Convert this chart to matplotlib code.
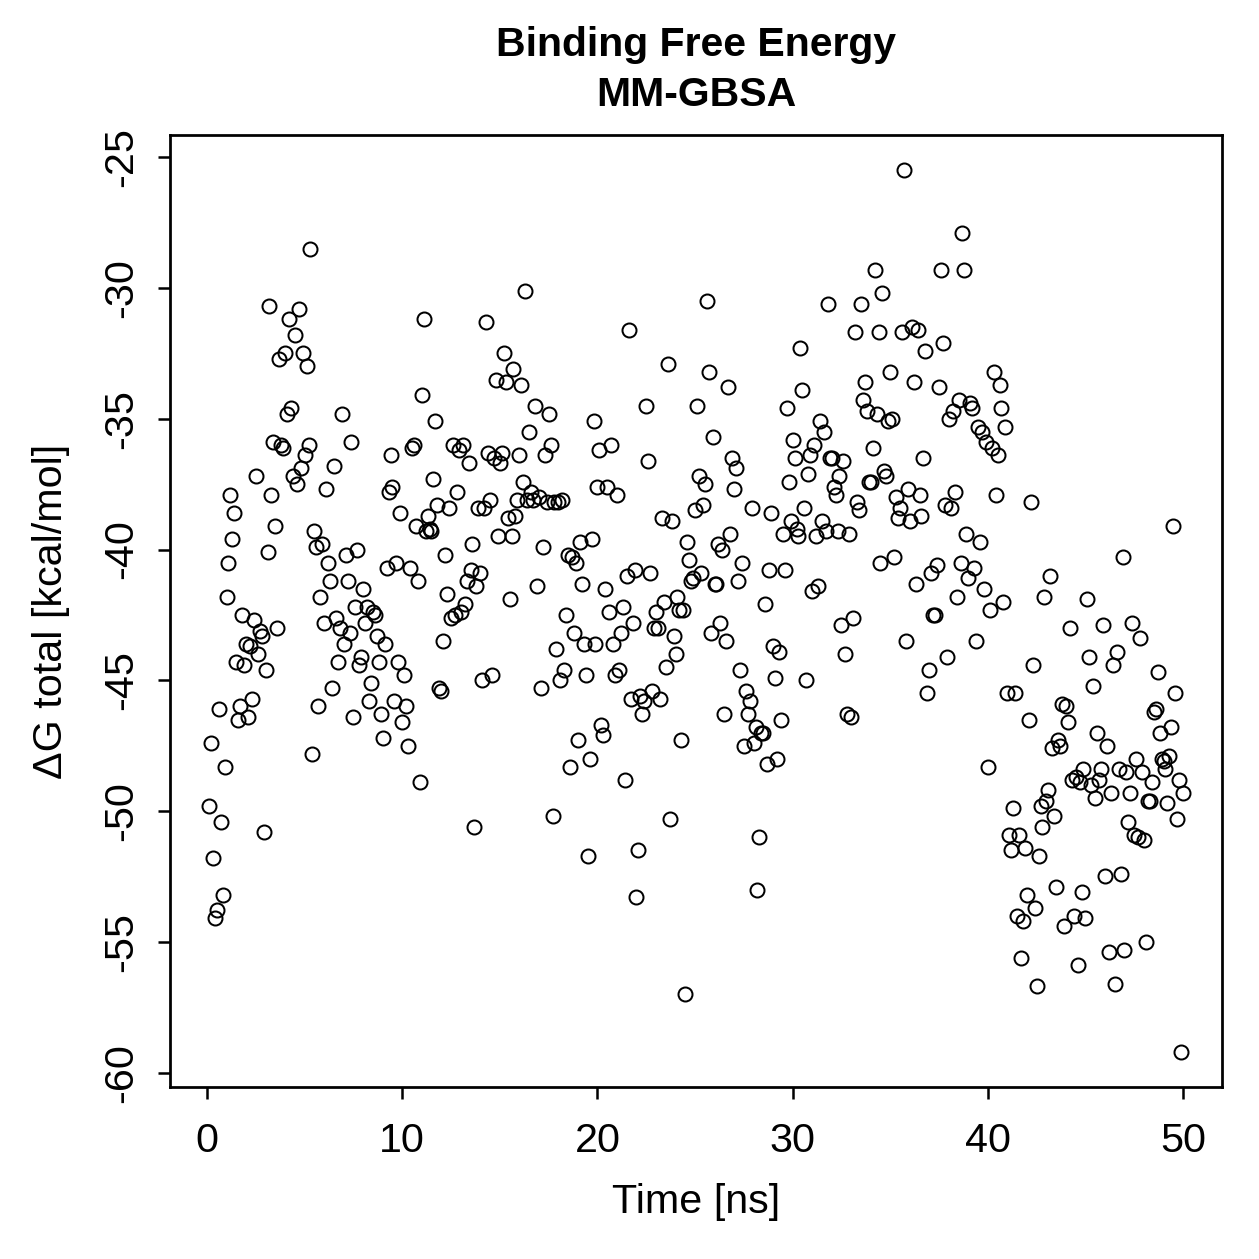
import matplotlib
matplotlib.use("Agg")
import matplotlib.pyplot as plt
import numpy as np

plt.rcParams['font.family'] = ['Liberation Sans', 'DejaVu Sans']
plt.rcParams['axes.unicode_minus'] = False

# time [ns], one frame every 0.1 ns
time_ns = [
    0.1, 0.2, 0.3, 0.4, 0.5, 0.6, 0.7, 0.8, 0.9, 1.0,
    1.1, 1.2, 1.3, 1.4, 1.5, 1.6, 1.7, 1.8, 1.9, 2.0,
    2.1, 2.2, 2.3, 2.4, 2.5, 2.6, 2.7, 2.8, 2.9, 3.0,
    3.1, 3.2, 3.3, 3.4, 3.5, 3.6, 3.7, 3.8, 3.9, 4.0,
    4.1, 4.2, 4.3, 4.4, 4.5, 4.6, 4.7, 4.8, 4.9, 5.0,
    5.1, 5.2, 5.3, 5.4, 5.5, 5.6, 5.7, 5.8, 5.9, 6.0,
    6.1, 6.2, 6.3, 6.4, 6.5, 6.6, 6.7, 6.8, 6.9, 7.0,
    7.1, 7.2, 7.3, 7.4, 7.5, 7.6, 7.7, 7.8, 7.9, 8.0,
    8.1, 8.2, 8.3, 8.4, 8.5, 8.6, 8.7, 8.8, 8.9, 9.0,
    9.1, 9.2, 9.3, 9.4, 9.5, 9.6, 9.7, 9.8, 9.9, 10.0,
    10.1, 10.2, 10.3, 10.4, 10.5, 10.6, 10.7, 10.8, 10.9, 11.0,
    11.1, 11.2, 11.3, 11.4, 11.5, 11.6, 11.7, 11.8, 11.9, 12.0,
    12.1, 12.2, 12.3, 12.4, 12.5, 12.6, 12.7, 12.8, 12.9, 13.0,
    13.1, 13.2, 13.3, 13.4, 13.5, 13.6, 13.7, 13.8, 13.9, 14.0,
    14.1, 14.2, 14.3, 14.4, 14.5, 14.6, 14.7, 14.8, 14.9, 15.0,
    15.1, 15.2, 15.3, 15.4, 15.5, 15.6, 15.7, 15.8, 15.9, 16.0,
    16.1, 16.2, 16.3, 16.4, 16.5, 16.6, 16.7, 16.8, 16.9, 17.0,
    17.1, 17.2, 17.3, 17.4, 17.5, 17.6, 17.7, 17.8, 17.9, 18.0,
    18.1, 18.2, 18.3, 18.4, 18.5, 18.6, 18.7, 18.8, 18.9, 19.0,
    19.1, 19.2, 19.3, 19.4, 19.5, 19.6, 19.7, 19.8, 19.9, 20.0,
    20.1, 20.2, 20.3, 20.4, 20.5, 20.6, 20.7, 20.8, 20.9, 21.0,
    21.1, 21.2, 21.3, 21.4, 21.5, 21.6, 21.7, 21.8, 21.9, 22.0,
    22.1, 22.2, 22.3, 22.4, 22.5, 22.6, 22.7, 22.8, 22.9, 23.0,
    23.1, 23.2, 23.3, 23.4, 23.5, 23.6, 23.7, 23.8, 23.9, 24.0,
    24.1, 24.2, 24.3, 24.4, 24.5, 24.6, 24.7, 24.8, 24.9, 25.0,
    25.1, 25.2, 25.3, 25.4, 25.5, 25.6, 25.7, 25.8, 25.9, 26.0,
    26.1, 26.2, 26.3, 26.4, 26.5, 26.6, 26.7, 26.8, 26.9, 27.0,
    27.1, 27.2, 27.3, 27.4, 27.5, 27.6, 27.7, 27.8, 27.9, 28.0,
    28.1, 28.2, 28.3, 28.4, 28.5, 28.6, 28.7, 28.8, 28.9, 29.0,
    29.1, 29.2, 29.3, 29.4, 29.5, 29.6, 29.7, 29.8, 29.9, 30.0,
    30.1, 30.2, 30.3, 30.4, 30.5, 30.6, 30.7, 30.8, 30.9, 31.0,
    31.1, 31.2, 31.3, 31.4, 31.5, 31.6, 31.7, 31.8, 31.9, 32.0,
    32.1, 32.2, 32.3, 32.4, 32.5, 32.6, 32.7, 32.8, 32.9, 33.0,
    33.1, 33.2, 33.3, 33.4, 33.5, 33.6, 33.7, 33.8, 33.9, 34.0,
    34.1, 34.2, 34.3, 34.4, 34.5, 34.6, 34.7, 34.8, 34.9, 35.0,
    35.1, 35.2, 35.3, 35.4, 35.5, 35.6, 35.7, 35.8, 35.9, 36.0,
    36.1, 36.2, 36.3, 36.4, 36.5, 36.6, 36.7, 36.8, 36.9, 37.0,
    37.1, 37.2, 37.3, 37.4, 37.5, 37.6, 37.7, 37.8, 37.9, 38.0,
    38.1, 38.2, 38.3, 38.4, 38.5, 38.6, 38.7, 38.8, 38.9, 39.0,
    39.1, 39.2, 39.3, 39.4, 39.5, 39.6, 39.7, 39.8, 39.9, 40.0,
    40.1, 40.2, 40.3, 40.4, 40.5, 40.6, 40.7, 40.8, 40.9, 41.0,
    41.1, 41.2, 41.3, 41.4, 41.5, 41.6, 41.7, 41.8, 41.9, 42.0,
    42.1, 42.2, 42.3, 42.4, 42.5, 42.6, 42.7, 42.8, 42.9, 43.0,
    43.1, 43.2, 43.3, 43.4, 43.5, 43.6, 43.7, 43.8, 43.9, 44.0,
    44.1, 44.2, 44.3, 44.4, 44.5, 44.6, 44.7, 44.8, 44.9, 45.0,
    45.1, 45.2, 45.3, 45.4, 45.5, 45.6, 45.7, 45.8, 45.9, 46.0,
    46.1, 46.2, 46.3, 46.4, 46.5, 46.6, 46.7, 46.8, 46.9, 47.0,
    47.1, 47.2, 47.3, 47.4, 47.5, 47.6, 47.7, 47.8, 47.9, 48.0,
    48.1, 48.2, 48.3, 48.4, 48.5, 48.6, 48.7, 48.8, 48.9, 49.0,
    49.1, 49.2, 49.3, 49.4, 49.5, 49.6, 49.7, 49.8, 49.9, 50.0,
]

# delta G total [kcal/mol]
dg_total = [
    -49.8, -47.4, -51.8, -54.1, -53.8, -46.1, -50.4, -53.2, -48.3, -41.8,
    -40.5, -37.9, -39.6, -38.6, -44.3, -46.5, -46.0, -42.5, -44.4, -43.6,
    -46.4, -43.7, -45.7, -42.7, -37.2, -44.0, -43.1, -43.3, -50.8, -44.6,
    -40.1, -30.7, -37.9, -35.9, -39.1, -43.0, -32.7, -36.0, -36.1, -32.5,
    -34.8, -31.2, -34.6, -37.2, -31.8, -37.5, -30.8, -36.9, -32.5, -36.4,
    -33.0, -36.0, -28.5, -47.8, -39.3, -39.9, -46.0, -41.8, -39.8, -42.8,
    -37.7, -40.5, -41.2, -45.3, -36.8, -42.6, -44.3, -43.0, -34.8, -43.6,
    -40.2, -41.2, -43.2, -35.9, -46.4, -42.2, -40.0, -44.4, -44.1, -41.5,
    -42.8, -42.2, -45.8, -45.1, -42.4, -42.5, -43.3, -44.3, -46.3, -47.2,
    -43.6, -40.7, -37.8, -36.4, -37.6, -45.8, -40.5, -44.3, -38.6, -46.6,
    -44.8, -46.0, -47.5, -40.7, -36.1, -36.0, -39.1, -41.2, -48.9, -34.1,
    -31.2, -39.3, -38.7, -39.2, -39.3, -37.3, -35.1, -38.3, -45.3, -45.4,
    -43.5, -40.2, -41.7, -38.4, -42.6, -36.0, -42.5, -37.8, -36.2, -42.4,
    -36.0, -42.1, -41.2, -36.7, -40.8, -39.8, -50.6, -41.4, -38.4, -40.9,
    -45.0, -38.4, -31.3, -36.3, -38.1, -44.8, -36.5, -33.5, -39.5, -36.7,
    -36.3, -32.5, -33.6, -38.8, -41.9, -39.5, -33.1, -38.7, -38.1, -36.4,
    -33.7, -37.4, -30.1, -38.1, -35.5, -37.8, -38.1, -34.5, -41.4, -38.0,
    -45.3, -39.9, -36.4, -38.2, -34.8, -36.0, -50.2, -38.2, -43.8, -38.2,
    -45.0, -38.1, -44.6, -42.5, -40.2, -48.3, -40.3, -43.2, -40.5, -47.3,
    -39.7, -41.3, -43.6, -44.8, -51.7, -48.0, -39.6, -35.1, -43.6, -37.6,
    -36.2, -46.7, -47.1, -41.5, -37.6, -42.4, -36.0, -43.6, -44.8, -37.9,
    -44.6, -43.2, -42.2, -48.8, -41.0, -31.6, -45.7, -42.8, -40.8, -53.3,
    -51.5, -45.6, -46.3, -45.8, -34.5, -36.6, -40.9, -45.4, -43.0, -42.4,
    -43.0, -45.7, -38.8, -42.0, -44.5, -32.9, -50.3, -38.9, -43.3, -44.0,
    -41.8, -42.3, -47.3, -42.3, -57.0, -39.7, -40.4, -41.2, -41.1, -38.5,
    -34.5, -37.2, -40.9, -38.3, -37.5, -30.5, -33.2, -43.2, -35.7, -41.3,
    -41.3, -39.8, -42.8, -40.0, -46.3, -43.5, -33.8, -39.4, -36.5, -37.7,
    -36.9, -41.2, -44.6, -40.5, -47.5, -45.4, -46.3, -45.8, -38.4, -47.4,
    -46.8, -53.0, -51.0, -47.0, -47.0, -42.1, -48.2, -40.8, -38.6, -43.7,
    -44.9, -48.0, -43.9, -46.5, -39.4, -40.8, -34.6, -37.4, -38.9, -35.8,
    -36.5, -39.2, -39.5, -32.3, -33.9, -38.4, -45.0, -37.1, -36.4, -41.6,
    -36.0, -39.5, -41.4, -35.1, -38.9, -35.5, -39.3, -30.6, -36.5, -36.5,
    -37.6, -37.9, -39.3, -37.2, -42.9, -36.6, -44.0, -46.3, -39.4, -46.4,
    -42.6, -31.7, -38.2, -38.5, -30.6, -34.3, -33.6, -34.7, -37.4, -37.4,
    -36.1, -29.3, -34.8, -31.7, -40.5, -30.2, -37.0, -37.2, -35.1, -33.2,
    -35.0, -40.3, -38.0, -38.8, -38.4, -31.7, -25.5, -43.5, -37.7, -38.9,
    -31.5, -33.6, -41.3, -31.6, -37.9, -38.7, -36.5, -32.4, -45.5, -44.6,
    -40.9, -42.5, -42.5, -40.6, -33.8, -29.3, -32.1, -38.3, -44.1, -35.0,
    -38.4, -34.7, -37.8, -41.8, -34.3, -40.5, -27.9, -29.3, -39.4, -41.1,
    -34.4, -34.6, -40.7, -43.5, -35.3, -39.7, -35.5, -41.5, -35.9, -48.3,
    -42.3, -36.1, -33.2, -37.9, -36.4, -33.7, -34.6, -42.0, -35.3, -45.5,
    -50.9, -51.5, -49.9, -45.5, -54.0, -50.9, -55.6, -54.2, -51.4, -53.2,
    -46.5, -38.2, -44.4, -53.7, -56.7, -51.7, -49.8, -50.6, -41.8, -49.6,
    -49.2, -41.0, -47.6, -50.2, -52.9, -47.3, -47.5, -45.9, -54.4, -46.0,
    -46.6, -43.0, -48.8, -54.0, -48.7, -55.9, -48.9, -53.1, -48.4, -54.1,
    -41.9, -44.1, -49.0, -45.2, -49.5, -47.0, -48.8, -48.4, -42.9, -52.5,
    -47.5, -55.4, -49.3, -44.4, -56.6, -43.9, -48.4, -52.4, -40.3, -55.3,
    -48.5, -50.4, -49.3, -42.8, -50.9, -48.0, -51.0, -43.4, -48.5, -51.1,
    -55.0, -49.6, -49.6, -48.9, -46.2, -46.1, -44.7, -47.0, -48.0, -48.1,
    -48.4, -49.7, -47.9, -46.8, -39.1, -45.5, -50.3, -48.8, -59.2, -49.3,
]

x = np.array(time_ns)
y = np.array(dg_total)

fig = plt.figure(figsize=(1259 / 180, 1259 / 180), dpi=180)
ax = fig.add_axes([170 / 1259, 1 - 1087 / 1259, (1222 - 170) / 1259, (1087 - 135) / 1259])

ax.plot(x, y, 'o', ms=5.6, mfc='none', mec='black', mew=0.8)

# R style 4% padding
xr = x.max() - x.min()
yr = y.max() - y.min()
ax.set_xlim(x.min() - 0.04 * xr, x.max() + 0.04 * xr)
ax.set_ylim(y.min() - 0.04 * yr, y.max() + 0.04 * yr)

ax.set_xticks([0, 10, 20, 30, 40, 50])
ax.set_yticks([-25, -30, -35, -40, -45, -50, -55, -60])
ax.tick_params(direction='out', length=4.8, width=1.0, labelsize=16.5)
ax.tick_params(axis='x', pad=9)
ax.tick_params(axis='y', pad=7)
for lab in ax.get_yticklabels():
    lab.set_rotation(90)
    lab.set_va('center')
for s in ax.spines.values():
    s.set_linewidth(1.1)

ax.set_xlabel('Time [ns]', fontsize=16.5, labelpad=9.5)
ax.set_ylabel('ΔG total [kcal/mol]', fontsize=16.5, labelpad=13)

fig.text(0.553, 1 - 45 / 1259, 'Binding Free Energy', ha='center', va='center',
         fontsize=16.4, fontweight='bold')
fig.text(0.553, 1 - 95 / 1259, 'MM-GBSA', ha='center', va='center',
         fontsize=16.4, fontweight='bold')

fig.savefig('out.png', dpi=180)
